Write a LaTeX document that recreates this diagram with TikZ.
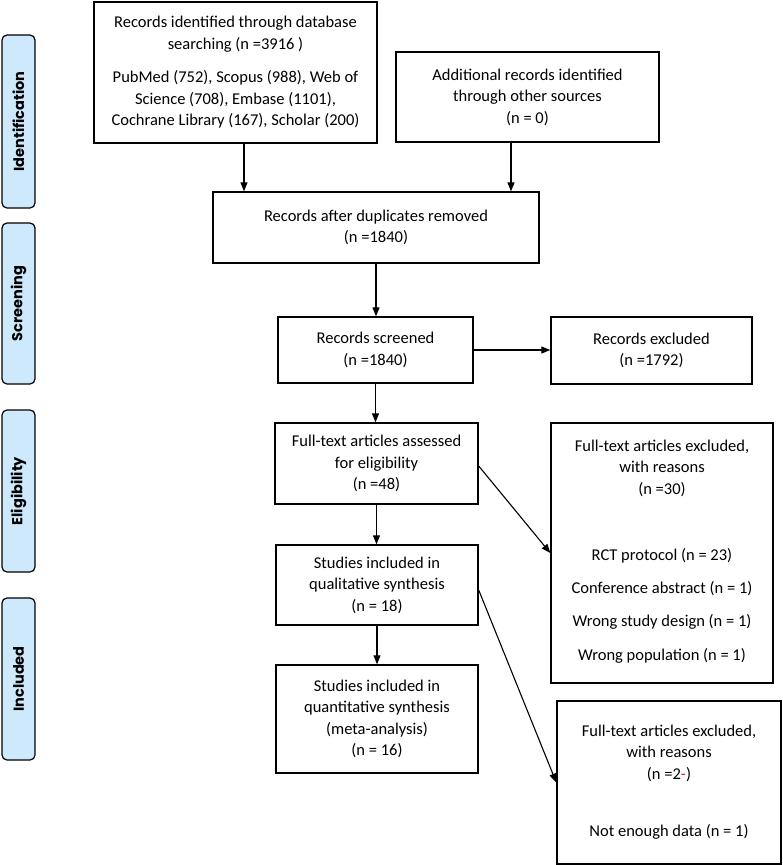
\documentclass[tikz,border=0pt]{standalone}
\usepackage{fontspec}
\setmainfont{Carlito}
\newfontfamily\labelfont{Poppins}
\usetikzlibrary{arrows.meta}
\definecolor{phaseblue}{HTML}{CDE9FB}
\definecolor{exred}{HTML}{D02030}
\begin{document}
\begin{tikzpicture}[x=1pt,y=-1pt,
  box/.style={draw, line width=1.4pt, inner sep=0pt, align=center,
    font=\fontsize{16.5}{21.5}\selectfont},
  txt/.style={inner sep=0pt, align=center, font=\fontsize{16.5}{21.5}\selectfont},
  listtxt/.style={inner sep=0pt, align=center, font=\fontsize{16.5}{33.3}\selectfont},
  phase/.style={draw, line width=1.2pt, rounded corners=5pt, fill=phaseblue,
    inner sep=0pt, minimum height=33pt, rotate=90,
    font=\labelfont\bfseries\fontsize{14.5}{16}\selectfont},
  arr/.style={line width=1.1pt, -{Triangle[length=9pt,width=7pt]}}]
\useasboundingbox (0,0) rectangle (782,865);

% phase labels
\node[phase, minimum width=173pt] (pid) at (18.5,121.5) {Identification};
\node[phase, minimum width=161pt] (psc) at (18.5,303.5) {Screening};
\node[phase, minimum width=162pt] (pel) at (18.5,491) {Eligibility};
\node[phase, minimum width=162pt] (pin) at (18.5,679) {Included};

% main boxes
\node[box, minimum width=283pt, minimum height=141pt] (rid) at (235.5,72.5)
  {Records identified through database\\searching (n =3916 )\\[12pt]PubMed (752), Scopus (988), Web of\\Science (708), Embase (1101),\\Cochrane Library (167), Scholar (200)};
\node[box, minimum width=263pt, minimum height=90pt] (add) at (527.5,97)
  {Additional records identified\\through other sources\\(n = 0)};
\node[box, minimum width=326pt, minimum height=71pt] (dup) at (376,227.5)
  {Records after duplicates removed\\(n =1840)};
\node[box, minimum width=195pt, minimum height=66pt] (scr) at (375.5,350)
  {Records screened\\(n =1840)};
\node[box, minimum width=201pt, minimum height=67pt] (rex) at (651.5,350.5)
  {Records excluded\\(n =1792)};
\node[box, minimum width=203pt, minimum height=81pt] (fta) at (376.5,463.5)
  {Full-text articles assessed\\for eligibility\\(n =48)};
\node[box, minimum width=222pt, minimum height=260pt] (fex) at (662,553) {};
\node[txt] (fexh) at (662,468) {Full-text articles excluded,\\with reasons\\(n =30)};
\node[listtxt] (fexl) at (662,605.5) {RCT protocol (n = 23)\\Conference abstract (n = 1)\\Wrong study design (n = 1)\\Wrong population (n = 1)};
\node[box, minimum width=202pt, minimum height=80pt] (qual) at (377,585)
  {Studies included in\\qualitative synthesis\\(n = 18)};
\node[box, minimum width=202pt, minimum height=108pt] (quan) at (377,719)
  {Studies included in\\quantitative synthesis\\(meta-analysis)\\(n = 16)};
\node[box, minimum width=224pt, minimum height=163pt] (dex) at (669,782.5) {};
\node[txt] (dexh) at (669,753) {Full-text articles excluded,\\with reasons\\(n =2{\color{exred}-})};
\node[txt] (dexl) at (669,832) {Not enough data (n = 1)};

% connectors
\draw[arr] ([xshift=8.5pt]rid.south) -- ([xshift=8.5pt]rid.south |- dup.north);
\draw[arr] ([xshift=-16.5pt]add.south) -- ([xshift=-16.5pt]add.south |- dup.north);
\draw[arr] (dup.south) -- (dup.south |- scr.north);
\draw[arr] (scr.east) -- (scr.east -| rex.west);
\draw[arr] (scr.south) -- (scr.south |- fta.north);
\draw[arr] ([yshift=-2.5pt]fta.east) -- (fex.west);
\draw[arr] (fta.south) -- (fta.south |- qual.north);
\draw[arr] ([yshift=-5pt]qual.east) -- (dex.west);
\draw[arr] (qual.south) -- (qual.south |- quan.north);
\end{tikzpicture}
\end{document}
